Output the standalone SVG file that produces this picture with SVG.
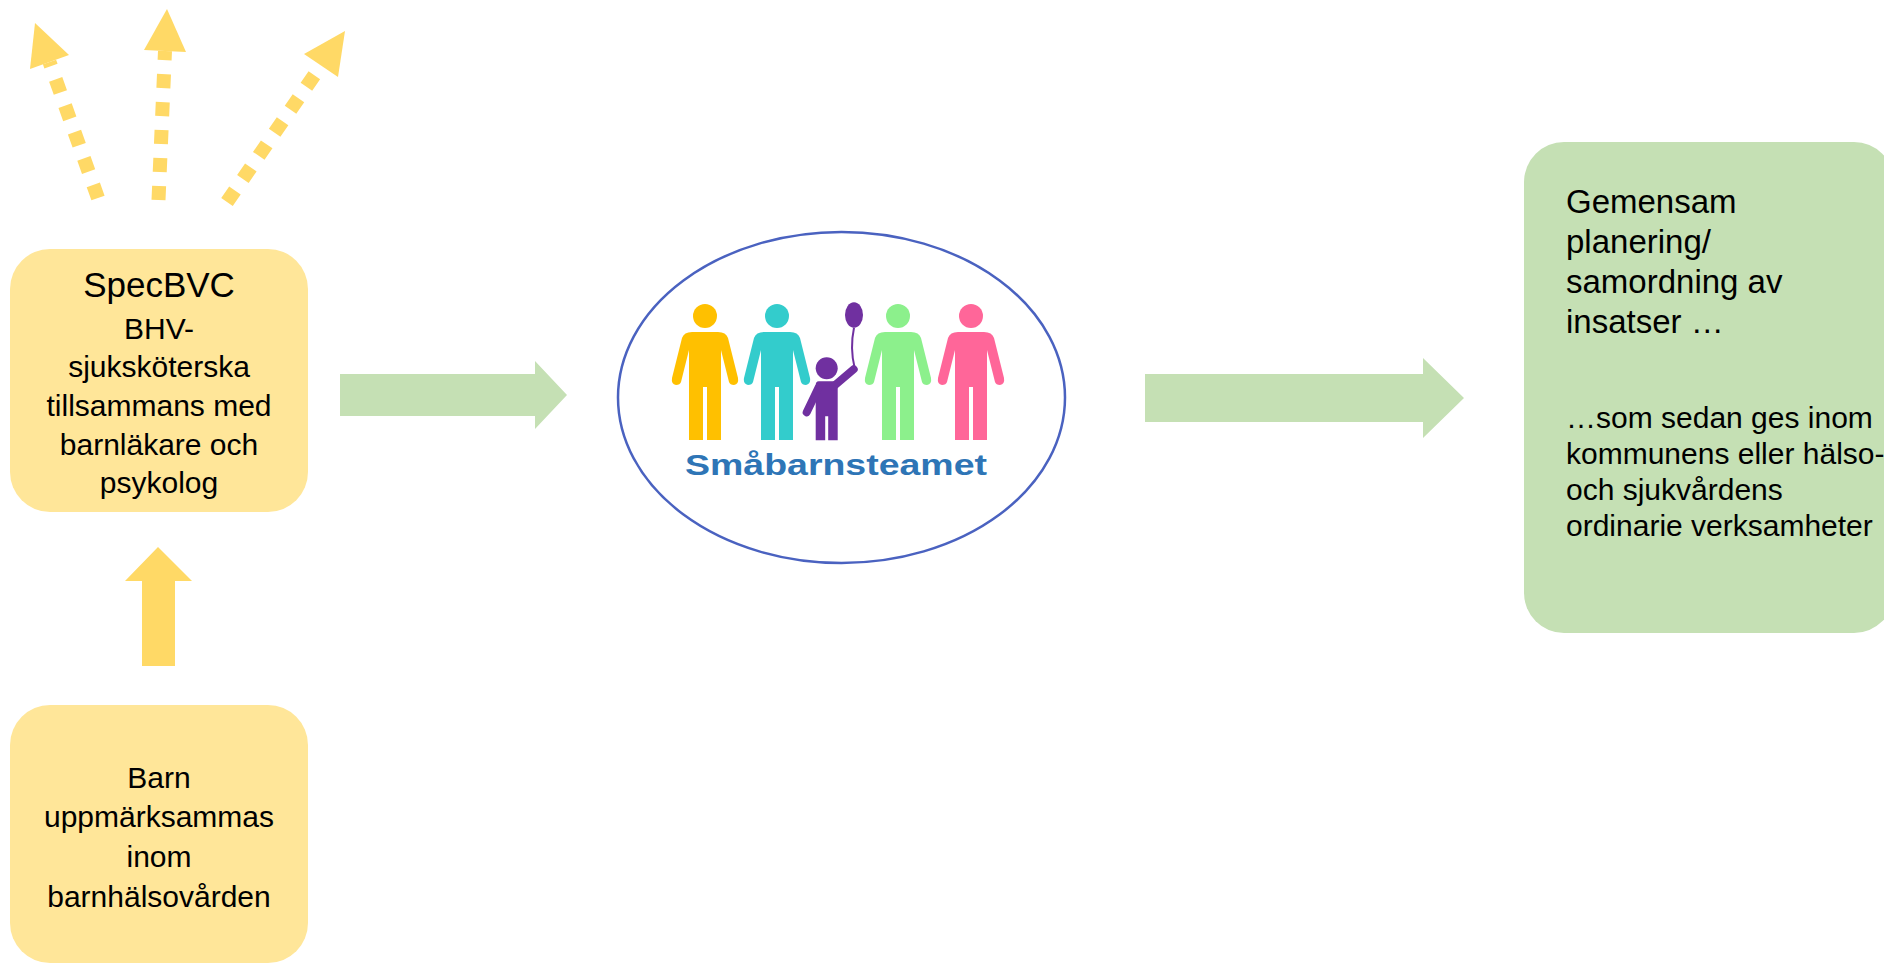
<svg xmlns="http://www.w3.org/2000/svg" width="1884" height="964" viewBox="0 0 1884 964">
<defs>
<style>
.box-y{fill:#FFE699}
.box-g{fill:#C5E0B4}
.arr-y{fill:#FFD966}
.arr-g{fill:#C5E0B4}
.dot{fill:none;stroke:#FFD966;stroke-width:14;stroke-dasharray:14 14}
.t{font-family:"Liberation Sans",Arial,sans-serif;fill:#000}
.c{text-anchor:middle}
.logo{font-family:"Liberation Sans",Arial,sans-serif;font-weight:bold;fill:#2E75B6}
</style>
<path id="adult" d="M -13,16 L 13,16 Q 21,16 23,22 L 33,62 Q 34,68 29,69 Q 25,69 24,66 L 16,34 L 16,124 L 2,124 L 2,71 L -2,71 L -2,124 L -16,124 L -16,34 L -24,66 Q -25,69 -29,69 Q -34,68 -33,62 L -23,22 Q -21,16 -13,16 Z"/>
</defs>
<rect width="1884" height="964" fill="#FFFFFF"/>

<g id="connectors">
  <g id="dotted-arrows">
    <line class="dot" x1="98" y1="198" x2="49.5" y2="62"/>
    <polygon class="arr-y" points="35,23 30,69 69,55"/>
    <line class="dot" x1="158.5" y1="200" x2="165" y2="51"/>
    <polygon class="arr-y" points="167,9 144,50 186,52"/>
    <line class="dot" x1="227" y1="202" x2="321" y2="65.5"/>
    <polygon class="arr-y" points="345,31 304,54 338,77"/>
  </g>
  <polygon id="arrow-up" class="arr-y" points="142,666 142,581 125,581 158,547 192,581 175,581 175,666"/>
  <polygon id="arrow-right-1" class="arr-g" points="340,374 535,374 535,361 567,395 535,429 535,416 340,416"/>
  <polygon id="arrow-right-2" class="arr-g" points="1145,374 1423,374 1423,358 1464,398 1423,438 1423,422 1145,422"/>
</g>

<g id="node-specbvc">
  <rect class="box-y" x="10" y="249" width="298" height="263" rx="40" ry="40"/>
  <text class="t c" x="159" y="297" font-size="35">SpecBVC</text>
  <text class="t c" x="159" y="339" font-size="30">BHV-</text>
  <text class="t c" x="159" y="377" font-size="30">sjuksköterska</text>
  <text class="t c" x="159" y="416" font-size="30">tillsammans med</text>
  <text class="t c" x="159" y="455" font-size="30">barnläkare och</text>
  <text class="t c" x="159" y="493" font-size="30">psykolog</text>
</g>

<g id="node-barn">
  <rect class="box-y" x="10" y="705" width="298" height="258" rx="40" ry="40"/>
  <text class="t c" x="159" y="788" font-size="30">Barn</text>
  <text class="t c" x="159" y="827" font-size="30">uppmärksammas</text>
  <text class="t c" x="159" y="867" font-size="30">inom</text>
  <text class="t c" x="159" y="907" font-size="30">barnhälsovården</text>
</g>

<g id="node-smabarnsteamet">
  <ellipse cx="841.5" cy="397.5" rx="223.5" ry="165.5" fill="#FFFFFF" stroke="#4A62C0" stroke-width="2.5"/>
  <g id="fig-yellow" fill="#FFC000" transform="translate(705,316)">
    <circle r="12"/>
    <use href="#adult"/>
  </g>
  <g id="fig-teal" fill="#33CCCC" transform="translate(777,316)">
    <circle r="12"/>
    <use href="#adult"/>
  </g>
  <g id="fig-child" fill="#7030A0" transform="translate(826.7,368.3)">
    <circle r="11"/>
    <path d="M -8,13 L 8,13 Q 11,13 11,17 L 11,72 L 1.5,72 L 1.5,48 L -1.5,48 L -1.5,72 L -11,72 L -11,17 Q -11,13 -8,13 Z"/>
    <line x1="-8" y1="19" x2="-20" y2="44" stroke="#7030A0" stroke-width="8" stroke-linecap="round"/>
    <line x1="7" y1="18" x2="27" y2="1" stroke="#7030A0" stroke-width="8" stroke-linecap="round"/>
    <path d="M 27.3,-40.6 Q 23,-20 28,0" fill="none" stroke="#7030A0" stroke-width="2"/>
    <ellipse cx="27.3" cy="-53.3" rx="9" ry="12.7"/>
  </g>
  <g id="fig-green" fill="#8CF08C" transform="translate(898,316)">
    <circle r="12"/>
    <use href="#adult"/>
  </g>
  <g id="fig-pink" fill="#FF6699" transform="translate(971,316)">
    <circle r="12"/>
    <use href="#adult"/>
  </g>
  <text class="logo" x="685" y="475" font-size="30" textLength="302" lengthAdjust="spacingAndGlyphs">Småbarnsteamet</text>
</g>

<g id="node-planering">
  <rect class="box-g" x="1524" y="142" width="370" height="491" rx="40" ry="40"/>
  <text class="t" x="1566" y="213" font-size="33">Gemensam</text>
  <text class="t" x="1566" y="253" font-size="33">planering/</text>
  <text class="t" x="1566" y="293" font-size="33">samordning av</text>
  <text class="t" x="1566" y="333" font-size="33">insatser …</text>
  <text class="t" x="1566" y="428" font-size="30">…som sedan ges inom</text>
  <text class="t" x="1566" y="464" font-size="30">kommunens eller hälso-</text>
  <text class="t" x="1566" y="500" font-size="30">och sjukvårdens</text>
  <text class="t" x="1566" y="536" font-size="30">ordinarie verksamheter</text>
</g>
</svg>
